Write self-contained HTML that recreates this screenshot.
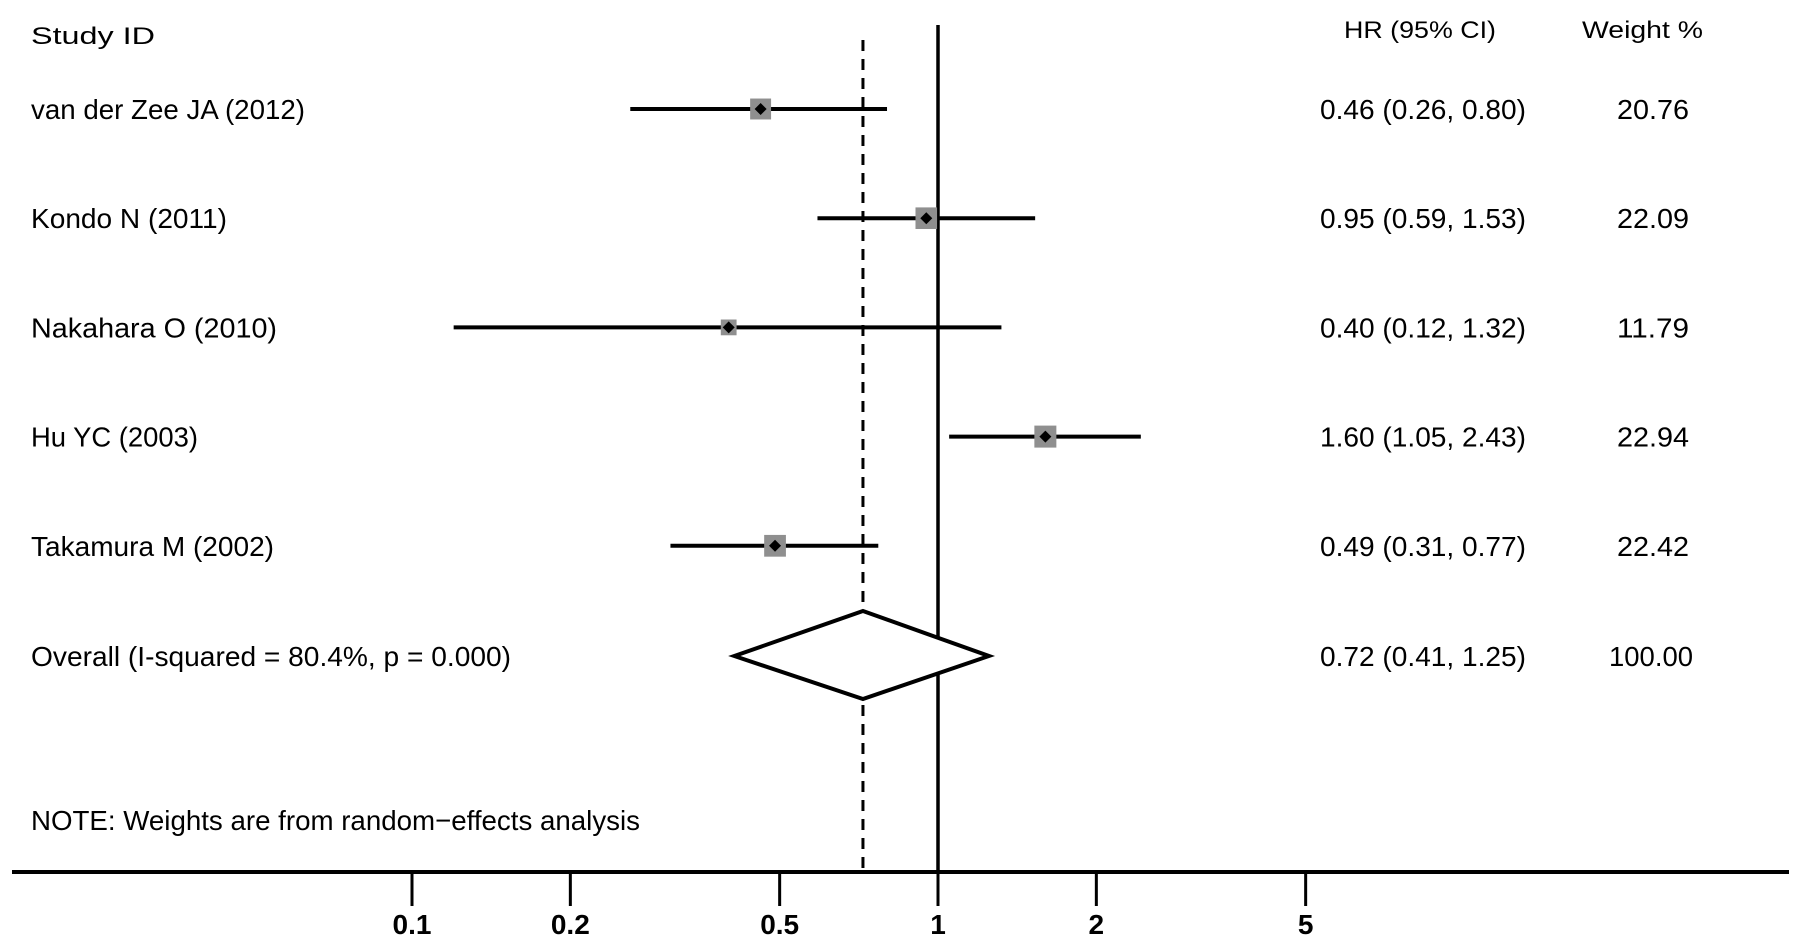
<!DOCTYPE html>
<html><head><meta charset="utf-8"><style>
html,body{margin:0;padding:0;background:#fff;}
svg{display:block;}
text{font-family:"Liberation Sans",sans-serif;font-size:28px;fill:#000;}
</style></head><body>
<svg id="chart" width="1795" height="939" viewBox="0 0 1795 939" xmlns="http://www.w3.org/2000/svg">
<text x="31" y="44" textLength="124" lengthAdjust="spacingAndGlyphs" style="font-size:24px">Study   ID</text>
<text x="1344" y="38" textLength="152" lengthAdjust="spacingAndGlyphs" style="font-size:24px">HR (95% CI)</text>
<text x="1582" y="38" textLength="121" lengthAdjust="spacingAndGlyphs" style="font-size:24px">Weight  %</text>
<line x1="938" y1="25" x2="938" y2="872" stroke="#000" stroke-width="3.5"/>
<line x1="12" y1="872" x2="1789" y2="872" stroke="#000" stroke-width="4"/>
<g id="rows"></g>
<g id="axis"></g>
<text x="31" y="830" textLength="609" lengthAdjust="spacingAndGlyphs">NOTE: Weights are from random−effects analysis</text>
</svg>
<script>
const studies=["van der Zee JA (2012)","Kondo N (2011)","Nakahara O  (2010)","Hu YC (2003)","Takamura M (2002)"];
const hr=[0.46,0.95,0.40,1.60,0.49];
const lo=[0.26,0.59,0.12,1.05,0.31];
const hi=[0.80,1.53,1.32,2.43,0.77];
const weights=[20.76,22.09,11.79,22.94,22.42];
const overallLabel="Overall  (I-squared = 80.4%, p = 0.000)";
const overall=[0.72,0.41,1.25];
const overallWeight="100.00";
const ticks=[0.1,0.2,0.5,1,2,5];
const tickLabels=["0.1","0.2","0.5","1","2","5"];

const NS="http://www.w3.org/2000/svg";
const rows=document.getElementById('rows');
const axis=document.getElementById('axis');
function xs(v){return 938+Math.log10(v)*526;}
function ys(i){return 109+i*109.2;}
function mk(tag,attrs,parent){const e=document.createElementNS(NS,tag);for(const k in attrs)e.setAttribute(k,attrs[k]);parent.appendChild(e);return e;}
const fmt=v=>v.toFixed(2);
const nameW=[274,196,246,167,243];
studies.forEach((s,i)=>{
  const y=ys(i);
  const t=mk('text',{x:31,y:y+10,textLength:nameW[i],lengthAdjust:'spacingAndGlyphs'},rows);t.textContent=s;
  
  
  const l=mk('line',{x1:xs(lo[i]),x2:xs(hi[i]),y1:y,y2:y,stroke:'#000','stroke-width':4},rows);
  
  
  const sz=Math.sqrt(weights[i]/22.94)*22;
  const r=mk('rect',{x:xs(hr[i])-sz/2,y:y-sz/2,width:sz,height:sz,fill:'#8f8f8f'},rows);
  
  
  const d=mk('polygon',{points:`${xs(hr[i])-6},${y} ${xs(hr[i])},${y-6} ${xs(hr[i])+6},${y} ${xs(hr[i])},${y+6}`,fill:'#000'},rows);
  
  
  const h=mk('text',{x:1320,y:y+10,textLength:206,lengthAdjust:'spacingAndGlyphs'},rows);
  h.textContent=`${fmt(hr[i])} (${fmt(lo[i])}, ${fmt(hi[i])})`;
  
  
  const w=mk('text',{x:1617,y:y+10,textLength:72,lengthAdjust:'spacingAndGlyphs'},rows);
  w.textContent=fmt(weights[i]);
  
  
});
const oy=ys(5)+1;
const dl=mk('line',{x1:xs(overall[0]),x2:xs(overall[0]),y1:40,y2:872,stroke:'#000','stroke-width':3,'stroke-dasharray':'11,8'},rows);


const dm=mk('polygon',{points:`${xs(overall[1])},${oy} ${xs(overall[0])},${oy-45} ${xs(overall[2])},${oy} ${xs(overall[0])},${oy+43}`,fill:'#fff',stroke:'#000','stroke-width':4},rows);


const ol=mk('text',{x:31,y:oy+10,textLength:480,lengthAdjust:'spacingAndGlyphs'},rows);ol.textContent=overallLabel;


const oh=mk('text',{x:1320,y:oy+10,textLength:206,lengthAdjust:'spacingAndGlyphs'},rows);
oh.textContent=`${fmt(overall[0])} (${fmt(overall[1])}, ${fmt(overall[2])})`;


const ow=mk('text',{x:1609,y:oy+10,textLength:84,lengthAdjust:'spacingAndGlyphs'},rows);ow.textContent=overallWeight;


ticks.forEach((t,i)=>{
  const x=xs(t);
  const tk=mk('line',{x1:x,x2:x,y1:872,y2:906,stroke:'#000','stroke-width':3},axis);
  
  
  const tl=mk('text',{x:x,y:934,'text-anchor':'middle',style:'font-size:28px;font-weight:bold'},axis);tl.textContent=tickLabels[i];
  
  
});
</script>
</body></html>
